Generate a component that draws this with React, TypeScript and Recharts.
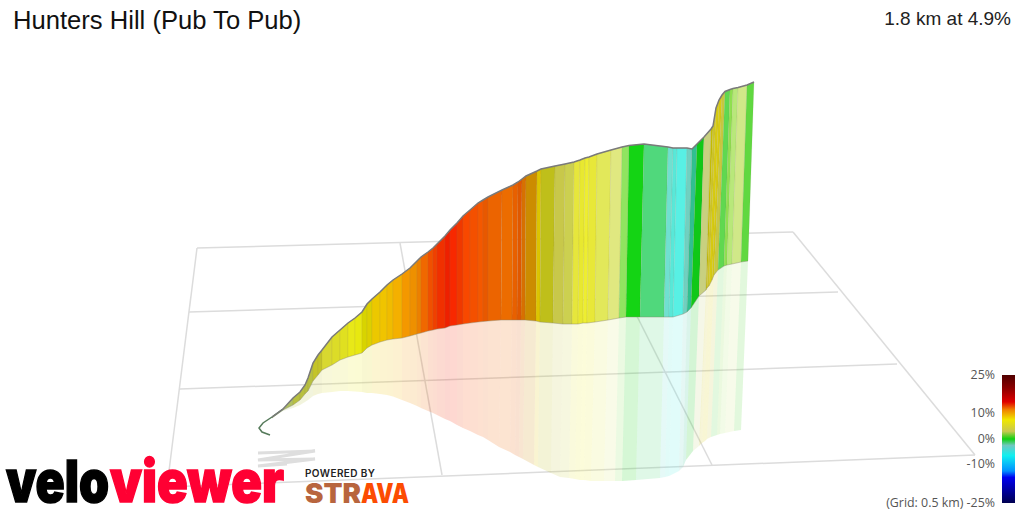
import React from 'react';
import {
  ComposedChart,
  Line,
  XAxis,
  YAxis,
  Polygon,
  ReferenceArea,
  useXAxisScale,
  useYAxisScale,
} from 'recharts';

const title = 'Hunters Hill (Pub To Pub)';
const summary = '1.8 km at 4.9%';

// Ridge of the climb, as projected on the picture
const ridgeX = [272, 283, 293, 300, 305, 308, 313, 318, 322, 332, 340, 348, 355, 362, 367, 372, 380, 387, 393, 402, 410, 417, 421, 428, 433, 437, 445, 450, 457, 463, 470, 478, 483, 488, 502, 513, 518, 522, 526, 537, 541, 555, 565, 574, 580, 585, 589, 597, 611, 622, 629, 644, 668, 673, 677, 687, 692, 697, 704, 711, 713, 716, 719, 722, 725, 730, 733, 738, 747, 754];
const ridgeY = [417, 409, 398, 392, 385, 378, 363, 355, 350, 337, 330, 323, 318, 312, 304, 299, 292, 285, 280, 274, 268, 261, 257, 252, 248, 244, 236, 230, 223, 216, 210, 203, 200, 197, 190, 185, 182, 179, 176, 171, 169, 166, 164, 162, 160, 158, 157, 154, 150, 147, 145.5, 144, 147, 148, 148, 148, 149, 144, 137, 129, 126, 108, 100, 95, 91.5, 89.5, 88.5, 87.5, 85, 82];
// Foot of the wall
const footX = [272, 283, 293, 300, 305, 308, 313, 318, 322, 332, 340, 348, 355, 362, 367, 372, 380, 387, 393, 402, 410, 417, 421, 428, 433, 437, 445, 450, 457, 463, 470, 478, 483, 488, 501, 512, 517, 521, 525, 536, 540, 553, 563, 572, 578, 583, 587, 595, 608, 619, 626, 640, 664, 669, 673, 683, 687, 691, 699, 706, 707, 709, 712, 714, 718, 724, 727, 732, 741, 748];
const footY = [418, 410, 405, 400, 394, 391, 381, 375, 370, 365, 360, 357, 355, 353, 348, 345, 342, 340, 339, 338, 336, 334, 333, 331, 330, 329, 328, 326, 325, 324, 323, 322, 321.5, 321, 320, 320, 320, 320, 320, 321, 322, 323, 324, 324, 324, 323, 323, 322, 320, 318, 317, 317, 317, 317, 317, 314, 312, 308, 296, 290, 288, 286, 280, 275, 270, 266, 265, 264, 262, 261];
// Edge of the reflection on the ground
const floorX = [272, 283, 293, 300, 305, 308, 313, 318, 322, 332, 340, 348, 355, 362, 367, 372, 380, 387, 393, 402, 410, 417, 421, 428, 433, 437, 445, 450, 457, 463, 470, 478, 483, 488, 499, 510, 515, 519, 523, 534, 538, 551, 560, 569, 575, 580, 584, 591, 604, 615, 622, 636, 660, 665, 669, 679, 683, 686, 693, 699, 700, 702, 705, 707, 711, 717, 720, 725, 734, 741];
const floorY = [418, 411, 408, 405, 402, 400, 396, 394, 393, 392, 391, 391, 391.5, 392, 393, 393, 394, 395, 396.5, 400, 403, 406, 408, 411, 413, 415, 419, 421, 425, 428, 431, 435, 437, 440, 447, 452, 455, 457, 459, 465, 467, 473, 477, 478, 479, 480, 480, 481, 481, 481, 481, 480, 478, 477, 476, 471, 467, 460, 451, 446, 445, 443, 441, 439, 437, 435, 434, 433, 431, 430];
// Colour of the strip that starts at each station
const stripColor = ['#90b060', '#b0c060', '#b8c040', '#b8c040', '#b8c040', '#b8c040', '#c4c428', '#c4c428', '#d8d830', '#dcdc28', '#e0e020', '#e8e818', '#e8e810', '#d8d400', '#dcd000', '#ecc800', '#f0c400', '#f0bc00', '#f4b000', '#f49800', '#ee9000', '#ec8000', '#f06800', '#f05000', '#f04000', '#f03000', '#ee2000', '#f82800', '#f03800', '#f84800', '#f45000', '#f45800', '#e85800', '#ec6400', '#ec6c00', '#e86000', '#e05800', '#d87000', '#cc8c00', '#dcc400', '#bfbf1a', '#c8c84a', '#ccd050', '#e6e63c', '#e8e830', '#eeee30', '#e8e838', '#e2e85a', '#e0e880', '#90e460', '#14d414', '#50d87c', '#70e0d0', '#58e8d8', '#58f0e4', '#70d0c0', '#30c090', '#10c818', '#c8d080', '#c8c000', '#d0c828', '#d8cc10', '#d8cc10', '#c8c840', '#60d850', '#90e050', '#b8e87a', '#d0e888', '#60d840'];

const hookX = [270, 262, 259, 263, 272, 283];
const hookY = [435, 432, 428, 423, 417, 409];

// Ground grid, 0.5 km squares
const gridFromX = [197, 189, 180, 167, 197, 400, 597, 793];
const gridFromY = [248, 312, 389, 487, 248, 243, 237, 232];
const gridToX = [793, 838, 897, 975, 167, 442, 712, 975];
const gridToY = [232, 292, 364, 455, 487, 475, 465, 455];

const scratchX = [258, 315, 258, 315, 258, 287];
const scratchY = [453, 451, 460, 459, 466, 464];

const scaleLabels = ['25%', '10%', '0%', '-10%', '(Grid: 0.5 km) -25%'];
const scaleLabelY = [379, 417, 443, 468, 507];
const scaleStopAt = [0, 0.1, 0.21, 0.27, 0.35, 0.44, 0.5, 0.55, 0.63, 0.75, 0.8, 1];
const scaleStopColor = ['#500000', '#8a0000', '#e00000', '#f08000', '#f0e800', '#c8c850', '#10d010', '#70c8c0', '#10f0f0', '#0090ff', '#0000f0', '#000050'];

const ridgeRows = ridgeX.map((x, i) => ({ x, y: ridgeY[i] }));
const footRows = footX.map((x, i) => ({ x, y: footY[i] }));
const hookRows = hookX.map((x, i) => ({ x, y: hookY[i] }));

function Ground() {
  const sx = useXAxisScale();
  const sy = useYAxisScale();
  if (!sx || !sy) return null;
  return (
    <g>
      {gridFromX.map((x, i) => (
        <line key={i} x1={sx(x)} y1={sy(gridFromY[i])} x2={sx(gridToX[i])} y2={sy(gridToY[i])} stroke="#dcdcdc" strokeWidth={1.5} />
      ))}
      <polyline
        points={scratchX.map((x, i) => `${sx(x)},${sy(scratchY[i])}`).join(' ')}
        fill="none"
        stroke="#dedede"
        strokeWidth={3}
      />
    </g>
  );
}

function Strips() {
  const sx = useXAxisScale();
  const sy = useYAxisScale();
  if (!sx || !sy) return null;
  const pt = (x: number, y: number) => ({ x: sx(x) as number, y: sy(y) as number });
  return (
    <g>
      {stripColor.map((c, i) => (
        <Polygon
          key={'f' + i}
          points={[pt(footX[i], footY[i]), pt(footX[i + 1], footY[i + 1]), pt(floorX[i + 1], floorY[i + 1]), pt(floorX[i], floorY[i])]}
          fill={c}
          fillOpacity={0.18}
          stroke="none"
        />
      ))}
      {stripColor.map((c, i) => (
        <Polygon
          key={'w' + i}
          points={[pt(ridgeX[i], ridgeY[i]), pt(ridgeX[i + 1], ridgeY[i + 1]), pt(footX[i + 1], footY[i + 1]), pt(footX[i], footY[i])]}
          fill={c}
          stroke="#807a60"
          strokeOpacity={0.18}
          strokeWidth={0.6}
        />
      ))}
    </g>
  );
}

const textFont = '"Open Sans", sans-serif';

export default function App() {
  return (
    <div style={{ position: 'absolute', left: 0, top: 0, width: 1024, height: 512, overflow: 'hidden', background: '#fff' }}>
      <div style={{ position: 'absolute', left: 0, top: 0 }}>
        <ComposedChart width={1024} height={512} margin={{ top: 0, right: 0, bottom: 0, left: 0 }} data={ridgeRows}>
          <defs>
            <linearGradient id="gradeScale" x1="0" y1="0" x2="0" y2="1">
              {scaleStopAt.map((o, i) => (
                <stop key={i} offset={o} stopColor={scaleStopColor[i]} />
              ))}
            </linearGradient>
          </defs>
          <XAxis dataKey="x" type="number" domain={[0, 1024]} hide allowDataOverflow />
          <YAxis type="number" domain={[0, 512]} reversed hide allowDataOverflow />
          <Ground />
          <Strips />
          <ReferenceArea x1={1002} x2={1015} y1={375} y2={503} fill="url(#gradeScale)" fillOpacity={1} stroke="none" />
          <Line data={footRows} dataKey="y" type="linear" stroke="#8a8a70" strokeOpacity={0.35} strokeWidth={1} dot={false} isAnimationActive={false} />
          <Line data={hookRows} dataKey="y" type="linear" stroke="#557a5a" strokeWidth={1.5} dot={false} isAnimationActive={false} />
          <Line dataKey="y" type="linear" stroke="#7a7a7a" strokeWidth={1.5} dot={false} isAnimationActive={false} />
        </ComposedChart>
      </div>
      <svg width={1024} height={512} style={{ position: 'absolute', left: 0, top: 0 }}>
        <text x={13} y={29} fontFamily="Liberation Sans" fontSize={25.6} fill="#111">{title}</text>
        <text x={1011} y={25} textAnchor="end" fontFamily="Liberation Sans" fontSize={19} fill="#222">{summary}</text>
        {scaleLabels.map((t, i) => (
          <text key={i} x={995} y={scaleLabelY[i]} textAnchor="end" fontFamily={textFont} fontSize={12.4} fill="#555">{t}</text>
        ))}
        <text x={6} y={502} fontFamily="Inter" fontWeight={900} fontSize={58} fill="#000" stroke="#000" strokeWidth={1.5} textLength={103} lengthAdjust="spacingAndGlyphs">velo</text>
        <text x={110} y={502} fontFamily="Inter" fontWeight={900} fontSize={58} fill="#ff0033" stroke="#ff0033" strokeWidth={1.5} textLength={174} lengthAdjust="spacingAndGlyphs">viewer</text>
        <text x={305} y={477} fontFamily="Inter" fontWeight={600} fontSize={10} fill="#222" textLength={70} lengthAdjust="spacing">POWERED BY</text>
        <text x={305} y={503} fontFamily="Inter" fontWeight={900} fontSize={27} fill="#b8653e" textLength={56} lengthAdjust="spacingAndGlyphs">STR</text>
        <text x={361} y={503} fontFamily="Inter" fontWeight={900} fontSize={27} fill="#fc4c02" textLength={48} lengthAdjust="spacingAndGlyphs">AVA</text>
      </svg>
    </div>
  );
}
